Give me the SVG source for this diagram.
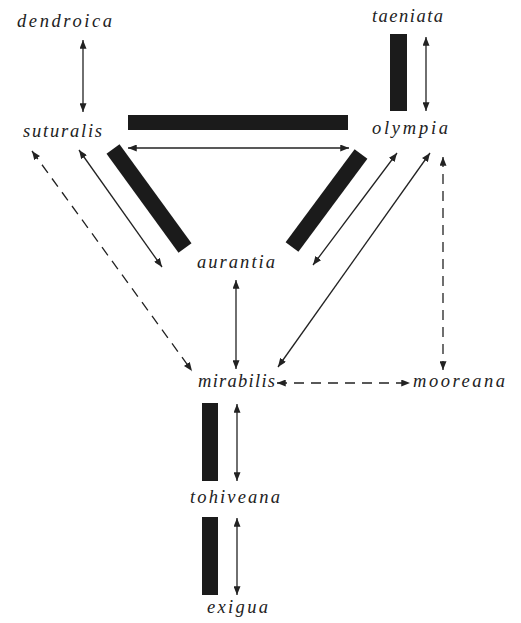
<svg xmlns="http://www.w3.org/2000/svg" width="521" height="623" viewBox="0 0 521 623">
<defs>
<style>
text{font-family:"Liberation Serif","Times New Roman",serif;font-style:italic;font-size:18.5px;fill:#222;text-anchor:middle}
.c{stroke:#222;stroke-width:1.3;fill:none}
.d{stroke-dasharray:10 7}
.bar{fill:#1b1b1b}
</style>
<marker id="ah" viewBox="0 0 10 8" refX="10" refY="4" markerWidth="9" markerHeight="7" markerUnits="userSpaceOnUse" orient="auto-start-reverse">
<path d="M0,0 L10,4 L0,8 Z" fill="#222"/>
</marker>
</defs>
<rect width="521" height="623" fill="#fff"/>
<g id="bars">
<rect class="bar" x="128" y="115" width="220" height="15"/>
<rect class="bar" x="390" y="34" width="17" height="77"/>
<rect class="bar" x="202" y="403" width="16" height="78"/>
<rect class="bar" x="202" y="517" width="16" height="78"/>
<polygon class="bar" points="106.5,153.7 119.5,144.3 191.5,243.3 178.5,252.7"/>
<polygon class="bar" points="354.6,149.2 367.4,158.8 298.4,251.8 285.6,242.2"/>
</g>
<g id="connectors">
<line class="c" x1="83" y1="40" x2="83" y2="112" marker-start="url(#ah)" marker-end="url(#ah)"/>
<line class="c" x1="426" y1="37" x2="426" y2="111" marker-start="url(#ah)" marker-end="url(#ah)"/>
<line class="c" x1="128" y1="148" x2="349" y2="148" marker-start="url(#ah)" marker-end="url(#ah)"/>
<line class="c" x1="79" y1="150" x2="162" y2="267" marker-start="url(#ah)" marker-end="url(#ah)"/>
<line class="c" x1="397" y1="153" x2="313" y2="265" marker-start="url(#ah)" marker-end="url(#ah)"/>
<line class="c" x1="430" y1="153" x2="278" y2="367" marker-start="url(#ah)" marker-end="url(#ah)"/>
<line class="c" x1="236" y1="280" x2="236" y2="369" marker-start="url(#ah)" marker-end="url(#ah)"/>
<line class="c d" x1="32" y1="151" x2="192" y2="371" marker-start="url(#ah)" marker-end="url(#ah)"/>
<line class="c d" x1="443" y1="157" x2="443" y2="370" marker-start="url(#ah)" marker-end="url(#ah)"/>
<line class="c d" x1="277" y1="383" x2="410" y2="383" marker-start="url(#ah)" marker-end="url(#ah)"/>
<line class="c" x1="237" y1="404" x2="237" y2="481" marker-start="url(#ah)" marker-end="url(#ah)"/>
<line class="c" x1="237" y1="518" x2="237" y2="595" marker-start="url(#ah)" marker-end="url(#ah)"/>
</g>
<g id="dendroica"><text x="64.5" y="27" textLength="95" lengthAdjust="spacing">dendroica</text></g>
<g id="suturalis"><text x="62.5" y="137" textLength="79" lengthAdjust="spacing">suturalis</text></g>
<g id="taeniata"><text x="407.5" y="22" textLength="71" lengthAdjust="spacing">taeniata</text></g>
<g id="olympia"><text x="410" y="134" textLength="76" lengthAdjust="spacing">olympia</text></g>
<g id="aurantia"><text x="236" y="268" textLength="78" lengthAdjust="spacing">aurantia</text></g>
<g id="mirabilis"><text x="236.5" y="387" textLength="77" lengthAdjust="spacing">mirabilis</text></g>
<g id="mooreana"><text x="459" y="387" textLength="92" lengthAdjust="spacing">mooreana</text></g>
<g id="tohiveana"><text x="235" y="503" textLength="90" lengthAdjust="spacing">tohiveana</text></g>
<g id="exigua"><text x="237.5" y="613" textLength="61" lengthAdjust="spacing">exigua</text></g>
</svg>
